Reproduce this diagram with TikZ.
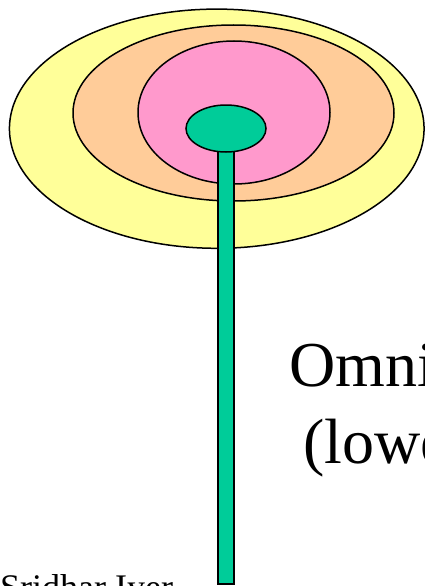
\documentclass[tikz,border=0pt]{standalone}
\usepackage{fontspec}
\setmainfont{Liberation Serif}
\definecolor{zoneyellow}{RGB}{255,255,153}
\definecolor{zoneorange}{RGB}{255,204,153}
\definecolor{zonepink}{RGB}{255,153,204}
\definecolor{antgreen}{RGB}{0,204,153}
\tikzset{
  zone/.style={draw=black, line width=1.5pt},
  mast/.style={draw=black, line width=2pt, fill=antgreen},
  bigtext/.style={anchor=base west, inner sep=0pt, font=\fontsize{64}{76}\selectfont},
  credit/.style={anchor=base west, inner sep=0pt, font=\fontsize{36}{40}\selectfont},
}

\begin{document}
\begin{tikzpicture}[x=1pt, y=-1pt]
  \useasboundingbox (0,0) rectangle (425,586);
  \clip (0,0) rectangle (425,586);

  % coverage zones
  \draw[zone, fill=zoneyellow] (216.75,128.7) ellipse [x radius=207.3, y radius=119.6];
  \draw[zone, fill=zoneorange] (233.5,113) ellipse [x radius=160.5, y radius=88];
  \draw[zone, fill=zonepink]   (234,112.5) ellipse [x radius=96, y radius=71.5];

  % antenna
  \draw[mast] (218,140) rectangle (234,584);
  \draw[zone, fill=antgreen] (226,128.5) ellipse [x radius=40, y radius=23.5];

  \node[bigtext] (omni) at (289,386) {Omni};
  \node[bigtext] (lower) at (303,463) {(lowe};
  \node[credit] (author) at (0,599) {Sridhar Iyer};
\end{tikzpicture}
\end{document}
